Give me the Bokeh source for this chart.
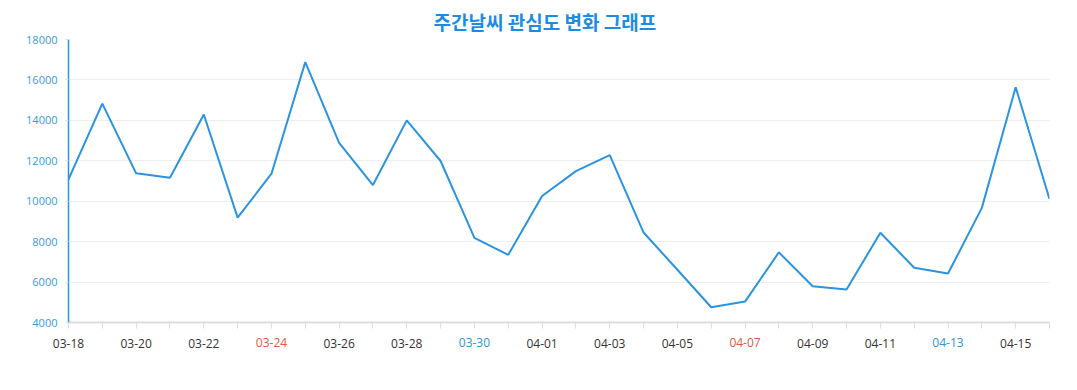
from bokeh.plotting import figure
from bokeh.models import Range1d, FixedTicker, LinearAxis, ColumnDataSource
from bokeh.embed import file_html
from bokeh.resources import INLINE

dates = ["03-18", "03-19", "03-20", "03-21", "03-22", "03-23", "03-24", "03-25", "03-26", "03-27",
         "03-28", "03-29", "03-30", "03-31", "04-01", "04-02", "04-03", "04-04", "04-05", "04-06",
         "04-07", "04-08", "04-09", "04-10", "04-11", "04-12", "04-13", "04-14", "04-15", "04-16"]
values = [11080, 14830, 11380, 11165, 14290, 9190, 11360, 16880, 12890, 10800,
          14000, 11990, 8190, 7350, 10260, 11490, 12280, 8450, 6610, 4755,
          5035, 7470, 5790, 5630, 8440, 6710, 6420, 9670, 15635, 10110]
sunday_labels = ["03-24", "04-07"]
saturday_labels = ["03-30", "04-13"]
y_ticks = [4000, 6000, 8000, 10000, 12000, 14000, 16000, 18000]
title_text = "주간날씨 관심도 변화 그래프"

idx = list(range(len(dates)))
src = ColumnDataSource(dict(x=idx, y=values))

p = figure(width=1061, height=374, output_backend="svg", toolbar_location=None,
           x_range=Range1d(0, len(dates) - 1), y_range=Range1d(4000, 18000),
           min_border_left=68, min_border_right=12, min_border_bottom=52, min_border_top=30)
p.title.text = title_text
p.title.align = "left"
p.title.offset = 365
p.title.text_font = "Noto Sans CJK KR"
p.title.text_font_size = "19px"
p.title.text_font_style = "bold"
p.title.text_color = "#1c8ce3"
p.outline_line_color = None
p.background_fill_color = "white"
p.border_fill_color = "white"

p.line("x", "y", source=src, line_color="#2b93df", line_width=2)

major = [i for i in idx if i % 2 == 0]
minor = [i for i in idx if i % 2 == 1]
xa = p.xaxis[0]
xa.ticker = FixedTicker(ticks=major, minor_ticks=minor)
special = set(sunday_labels) | set(saturday_labels)
xa.major_label_overrides = {i: ("" if dates[i] in special else dates[i]) for i in major}
xa.axis_line_color = "#dddddd"
xa.axis_line_width = 2
xa.major_tick_line_color = "#dddddd"
xa.minor_tick_line_color = "#dddddd"
xa.major_tick_in = 0
xa.minor_tick_in = 0
xa.major_tick_out = 6
xa.minor_tick_out = 6
xa.major_label_text_font = "Open Sans"
xa.major_label_text_font_size = "12px"
xa.major_label_text_color = "#333333"
xa.major_label_standoff = 10


def colored_axis(labels, color, standoff):
    ticks = [dates.index(d) for d in labels]
    ax = LinearAxis(ticker=FixedTicker(ticks=ticks, minor_ticks=[]),
                    major_label_overrides={t: dates[t] for t in ticks})
    ax.axis_line_color = None
    ax.major_tick_line_color = None
    ax.minor_tick_line_color = None
    ax.major_tick_in = 0
    ax.major_tick_out = 0
    ax.minor_tick_out = 0
    ax.major_label_text_font = "Open Sans"
    ax.major_label_text_font_size = "12px"
    ax.major_label_text_color = color
    ax.major_label_standoff = standoff
    p.add_layout(ax, "below")
    return ax


ax_sun = colored_axis(sunday_labels, "#e0573e", -13)
ax_sat = colored_axis(saturday_labels, "#2a95d6", -13)

ya = p.yaxis[0]
ya.ticker = FixedTicker(ticks=y_ticks, minor_ticks=[])
ya.axis_line_color = "#2b95e3"
ya.axis_line_width = 1.5
ya.major_tick_line_color = "#dddddd"
ya.major_tick_in = 0
ya.major_tick_out = 3
ya.major_label_text_font = "Open Sans"
ya.major_label_text_font_size = "11px"
ya.major_label_text_color = "#3a9ad9"
ya.major_label_standoff = 8

p.xgrid.grid_line_color = None
p.ygrid.grid_line_color = "#eeeeee"
p.ygrid.ticker = FixedTicker(ticks=y_ticks)

open("out.html", "w").write(file_html(p, INLINE))
